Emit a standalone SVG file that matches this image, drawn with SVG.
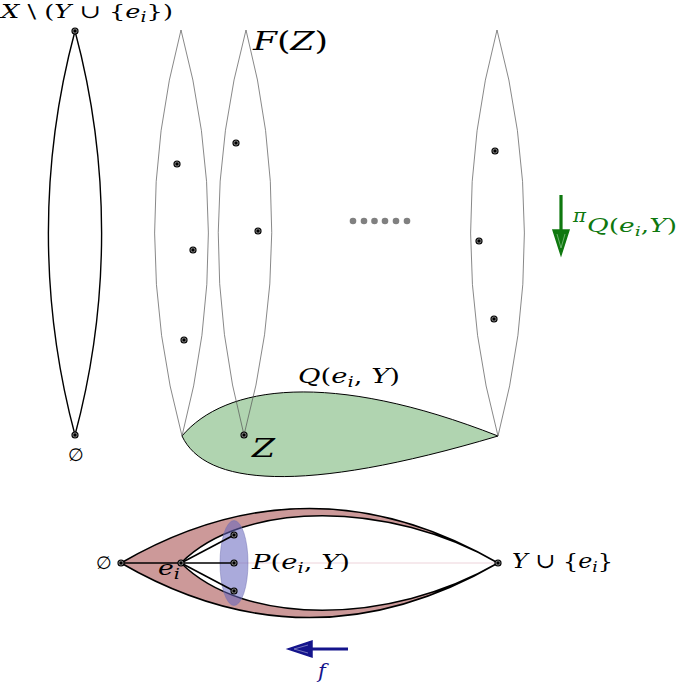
<svg xmlns="http://www.w3.org/2000/svg" width="680" height="685" viewBox="0 0 680 685" font-family="'DejaVu Serif', 'Liberation Serif', serif">
<style>
text{font-family:"DejaVu Serif","Liberation Serif",serif;fill:#000}
.i{font-style:italic}
.thin{fill:none;stroke:#555;stroke-width:0.7}
.thick{fill:none;stroke:#000;stroke-width:1.4}
.line{stroke:#000;stroke-width:1.6}
.g{fill:#0f780f}
.b{fill:#14148c}
</style>
<defs>
<g id="dot"><circle r="3.6" fill="#000"/><circle r="2.1" fill="none" stroke="#fff" stroke-width="0.5"/></g>
</defs>
<rect width="680" height="685" fill="#fff"/>

<g id="left-lens">
<path class="thick" d="M75,31 A780,780 0 0 0 75,435 A780,780 0 0 0 75,31 Z"/>
<use href="#dot" x="75" y="31"/>
<use href="#dot" x="75" y="435"/>
<text x="1" y="18" font-size="19" textLength="172" lengthAdjust="spacingAndGlyphs"><tspan class="i">X</tspan> \ (<tspan class="i">Y</tspan> ∪ {<tspan class="i">e</tspan><tspan dy="4" font-size="14" class="i">i</tspan><tspan dy="-4">})</tspan></text>
<text x="76" y="461" font-size="18" text-anchor="middle">∅</text>
</g>

<g id="q-region">
<path d="M182,436 C225,385 330,370 498,436 C300,495 205,485 182,436 Z" fill="#b0d4b0" stroke="#000" stroke-width="1"/>
<text x="298" y="383" font-size="21" textLength="102" lengthAdjust="spacingAndGlyphs"><tspan class="i">Q</tspan>(<tspan class="i">e</tspan><tspan dy="4" font-size="15" class="i">i</tspan><tspan dy="-4">, </tspan><tspan class="i">Y</tspan>)</text>
</g>

<g id="lens-1">
<path class="thin" d="M181,30 A780,780 0 0 0 182,436 A780,780 0 0 0 181,30 Z"/>
<use href="#dot" x="177" y="164"/>
<use href="#dot" x="193" y="250"/>
<use href="#dot" x="184" y="340"/>
</g>

<g id="lens-2">
<path class="thin" d="M246,30 A780,780 0 0 0 244,435 A780,780 0 0 0 246,30 Z"/>
<use href="#dot" x="236" y="143"/>
<use href="#dot" x="258" y="231"/>
<use href="#dot" x="244" y="435"/>
<text x="253" y="50" font-size="26" textLength="75" lengthAdjust="spacingAndGlyphs"><tspan class="i">F</tspan>(<tspan class="i">Z</tspan>)</text>
<text x="252" y="457" font-size="26" class="i" textLength="23" lengthAdjust="spacingAndGlyphs">Z</text>
</g>

<g id="lens-3">
<path class="thin" d="M497,30 A780,780 0 0 0 498,436 A780,780 0 0 0 497,30 Z"/>
<use href="#dot" x="495" y="151"/>
<use href="#dot" x="479" y="241"/>
<use href="#dot" x="494" y="319"/>
</g>

<g id="ellipsis" fill="#808080">
<circle cx="353" cy="221" r="3.3"/><circle cx="364" cy="221" r="3.3"/><circle cx="374.5" cy="221" r="3.3"/><circle cx="385" cy="221" r="3.3"/><circle cx="396" cy="221" r="3.3"/><circle cx="407" cy="221" r="3.3"/>
</g>

<g id="bottom-shape">
<path d="M121,563 C247,490 372,490 498,563 C372,636 247,636 121,563 Z M181,563 C244,500 389,500 498,563 C389,626 244,626 181,563 Z" fill="#cc9999" fill-rule="evenodd" stroke="#000" stroke-width="1.5"/>
<line x1="234" y1="563" x2="498" y2="563" stroke="#e8c8d0" stroke-width="0.8"/>
<ellipse cx="234" cy="563" rx="14" ry="42.5" fill="#6464be" fill-opacity="0.55" stroke="#7070b0" stroke-opacity="0.6" stroke-width="0.8"/>
<line class="line" x1="121" y1="563" x2="181" y2="563"/>
<line class="line" x1="181" y1="563" x2="234" y2="535"/>
<line class="line" x1="181" y1="563" x2="234" y2="563"/>
<line class="line" x1="181" y1="563" x2="234" y2="591"/>
<use href="#dot" x="121" y="563"/>
<use href="#dot" x="181" y="563"/>
<use href="#dot" x="234" y="535"/>
<use href="#dot" x="234" y="563"/>
<use href="#dot" x="234" y="591"/>
<use href="#dot" x="498" y="563"/>
<text x="104" y="569" font-size="18" text-anchor="middle">∅</text>
<text x="158" y="575" font-size="21" textLength="22" lengthAdjust="spacingAndGlyphs"><tspan class="i">e</tspan><tspan dy="4" font-size="15" class="i">i</tspan></text>
<text x="252" y="569" font-size="21" textLength="98" lengthAdjust="spacingAndGlyphs"><tspan class="i">P</tspan>(<tspan class="i">e</tspan><tspan dy="4" font-size="15" class="i">i</tspan><tspan dy="-4">, </tspan><tspan class="i">Y</tspan>)</text>
<text x="512" y="568" font-size="21" textLength="101" lengthAdjust="spacingAndGlyphs"><tspan class="i">Y</tspan> ∪ {<tspan class="i">e</tspan><tspan dy="4" font-size="15" class="i">i</tspan><tspan dy="-4">}</tspan></text>
</g>

<g id="connectors">
<g id="pi-arrow">
<line x1="561" y1="195" x2="561" y2="236" stroke="#0f780f" stroke-width="3.2"/>
<polygon points="553,230 569,230 561,255" fill="#0f780f" stroke="#0f780f" stroke-width="1.5"/>
<polyline points="557,234 561,248 565,234" fill="none" stroke="#7fbf7f" stroke-width="0.8"/>
<text x="573" y="222" font-size="19" class="i g" textLength="13" lengthAdjust="spacingAndGlyphs">π</text>
<text x="587" y="232" font-size="18" class="g" textLength="90" lengthAdjust="spacingAndGlyphs"><tspan class="i">Q</tspan>(<tspan class="i">e</tspan><tspan dy="4" font-size="13" class="i">i</tspan><tspan dy="-4">,</tspan><tspan class="i">Y</tspan>)</text>
</g>
<g id="f-arrow">
<line x1="348" y1="649" x2="306" y2="649" stroke="#14148c" stroke-width="3.2"/>
<polygon points="312,641 312,657 288,649" fill="#14148c" stroke="#14148c" stroke-width="1.5"/>
<polyline points="308,645 294,649 308,653" fill="none" stroke="#8a8ac8" stroke-width="0.8"/>
<text x="318" y="678" font-size="21" class="i b">f</text>
</g>
</g>
</svg>
